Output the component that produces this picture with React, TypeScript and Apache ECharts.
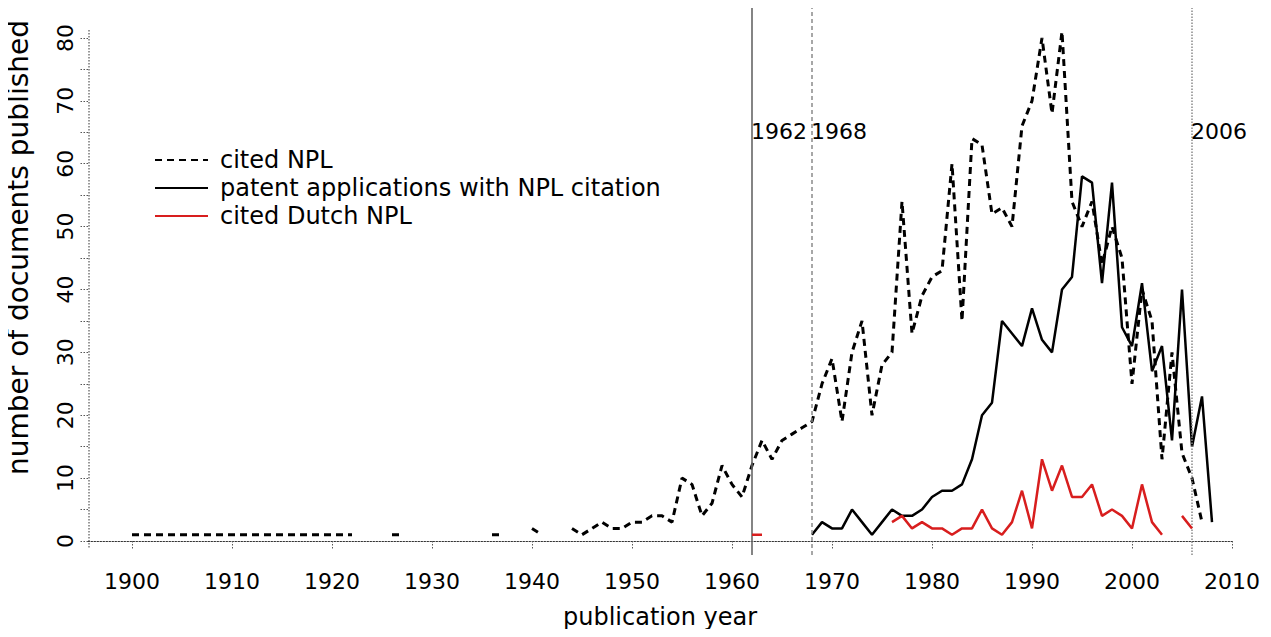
import React, { useEffect, useRef } from "react";
import * as echarts from "echarts";

const FONT = "DejaVu Sans";

// cited NPL (dashed), yearly values starting 1900; null = no data
const citedNplStart = 1900;
const citedNpl: (number | null)[] = [
  1, 1, 1, 1, 1, 1, 1, 1, 1, 1, // 1900-1909
  1, 1, 1, 1, 1, 1, 1, 1, 1, 1, // 1910-1919
  1, 1, 1, null, null, null, 1, 1, null, null, // 1920-1929
  null, null, null, null, null, null, 1, 1, null, null, // 1930-1939
  2, 1, null, null, 2, 1, 2, 3, 2, 2, // 1940-1949
  3, 3, 4, 4, 3, 10, 9, 4, 6, 12, // 1950-1959
  9, 7, 12, 16, 13, 16, 17, 18, 19, 25, // 1960-1969
  29, 19, 30, 35, 20, 28, 30, 54, 33, 39, // 1970-1979
  42, 43, 60, 35, 64, 63, 52, 53, 50, 66, // 1980-1989
  70, 80, 68, 81, 54, 50, 54, 44, 50, 45, // 1990-1999
  25, 40, 35, 13, 30, 14, 10, 3, // 2000-2007
];

// patent applications with NPL citation (solid black), from 1968
const patentStart = 1968;
const patentApps: (number | null)[] = [
  1, 3, 2, 2, 5, 3, 1, 3, 5, 4, // 1968-1977
  4, 5, 7, 8, 8, 9, 13, 20, 22, 35, // 1978-1987
  33, 31, 37, 32, 30, 40, 42, 58, 57, 41, // 1988-1997
  57, 34, 31, 41, 27, 31, 16, 40, 15, 23, // 1998-2007
  3, // 2008
];

// cited Dutch NPL (red), from 1962
const dutchStart = 1962;
const dutchNpl: (number | null)[] = [
  1, 1, null, null, null, null, null, null, null, null, // 1962-1971
  null, null, null, null, 3, 4, 2, 3, 2, 2, // 1972-1981
  1, 2, 2, 5, 2, 1, 3, 8, 2, 13, // 1982-1991
  8, 12, 7, 7, 9, 4, 5, 4, 2, 9, // 1992-2001
  3, 1, null, 4, 2, // 2002-2006
];

const xTicks = [1900, 1910, 1920, 1930, 1940, 1950, 1960, 1970, 1980, 1990, 2000, 2010];
const yLabels = [0, 10, 20, 30, 40, 50, 60, 70, 80];
const yTicks = [0, 5, 10, 15, 20, 25, 30, 35, 40, 45, 50, 55, 60, 65, 70, 75, 80];
const markerYears = [1962, 1968, 2006];
const markerLabelY = 65.2;

const toPairs = (start: number, vals: (number | null)[]) =>
  vals.map((v, i) => [start + i, v === null ? "-" : v]);

export default function App() {
  const ref = useRef<HTMLDivElement>(null);
  useEffect(() => {
    if (!ref.current) return;
    const chart = echarts.init(ref.current, undefined, { renderer: "svg" });
    const gray = "#8a8a8a";
    chart.setOption({
      animation: false,
      backgroundColor: "#ffffff",
      textStyle: { fontFamily: FONT },
      grid: { left: 88, right: 39, top: 8, bottom: 82, outerBoundsMode: "none", containLabel: false },
      legend: {
        orient: "vertical",
        left: 149,
        top: 143,
        itemWidth: 53,
        itemHeight: 14,
        itemGap: 4,
        selectedMode: false,
        itemStyle: { opacity: 0 },
        textStyle: { fontSize: 24, color: "#000", fontFamily: FONT, padding: [0, 0, 0, 7], lineHeight: 24 },
        data: ["cited NPL", "patent applications with NPL citation", "cited Dutch NPL"],
      },
      xAxis: {
        type: "value",
        min: 1895.6,
        max: 2010,
        name: "publication year",
        nameLocation: "middle",
        nameGap: 50,
        nameTextStyle: { fontSize: 24, color: "#000", fontFamily: FONT },
        axisLine: { show: true, lineStyle: { color: "#333", width: 1, type: [1.5, 1.5] } },
        axisTick: { show: true, length: 8, customValues: xTicks, lineStyle: { color: "#555", width: 1, type: [1.5, 1.5] } },
        axisLabel: {
          customValues: xTicks,
          fontSize: 22,
          color: "#000",
          margin: 15,
          fontFamily: FONT,
          formatter: (v: number) => String(v),
        },
        splitLine: { show: false },
      },
      yAxis: {
        type: "value",
        min: -2.227,
        max: 84.77,
        name: "number of documents published",
        nameLocation: "middle",
        nameRotate: 90,
        nameGap: 56,
        nameTextStyle: { fontSize: 28, color: "#000", fontFamily: FONT, padding: [0, 0, 0, 68] },
        axisLine: { show: false },
        axisTick: { show: true, length: 8, customValues: yTicks, lineStyle: { color: "#555", width: 1, type: [1.5, 1.5] } },
        axisLabel: {
          customValues: yLabels,
          rotate: 90,
          fontSize: 22,
          color: "#000",
          margin: 12,
          fontFamily: FONT,
          formatter: (v: number) => String(v),
        },
        splitLine: { show: false },
      },
      graphic: [
        {
          type: "line",
          shape: { x1: 89, y1: 30, x2: 89, y2: 548 },
          style: { stroke: "#333", lineWidth: 1, lineDash: [1.5, 1.5] },
          silent: true,
        },
      ],
      series: [
        {
          name: "cited NPL",
          type: "line",
          data: toPairs(citedNplStart, citedNpl),
          symbol: "none",
          connectNulls: false,
          lineStyle: { color: "#000", width: 3, type: [7, 5] },
          itemStyle: { color: "#000" },
          z: 3,
        },
        {
          name: "patent applications with NPL citation",
          type: "line",
          data: toPairs(patentStart, patentApps),
          symbol: "none",
          connectNulls: false,
          lineStyle: { color: "#000", width: 2.5 },
          itemStyle: { color: "#000" },
          z: 4,
        },
        {
          name: "cited Dutch NPL",
          type: "line",
          data: toPairs(dutchStart, dutchNpl),
          symbol: "none",
          connectNulls: false,
          lineStyle: { color: "#d81e1e", width: 2.5 },
          itemStyle: { color: "#d81e1e" },
          z: 5,
          markLine: {
            silent: true,
            symbol: ["none", "none"],
            label: { show: false },
            data: [
              { xAxis: markerYears[0], lineStyle: { color: "#666", width: 1.6, type: "solid" } },
              { xAxis: markerYears[1], lineStyle: { color: gray, width: 1.5, type: [4, 3] } },
              { xAxis: markerYears[2], lineStyle: { color: gray, width: 1.5, type: [1.5, 1.5] } },
            ],
          },
        },
        {
          name: "markers",
          type: "scatter",
          silent: true,
          symbolSize: 0,
          itemStyle: { opacity: 1, color: "#000" },
          data: markerYears.map((y) => [y, markerLabelY]),
          label: {
            show: true,
            position: "right",
            distance: 0,
            offset: [-1, 0],
            fontSize: 22,
            color: "#000",
            opacity: 1,
            fontFamily: FONT,
            formatter: (p: any) => String(p.value[0]),
          },
          z: 6,
        },
      ],
    });
    return () => chart.dispose();
  }, []);
  return <div ref={ref} style={{ width: 1271, height: 637, margin: -8 }} />;
}
